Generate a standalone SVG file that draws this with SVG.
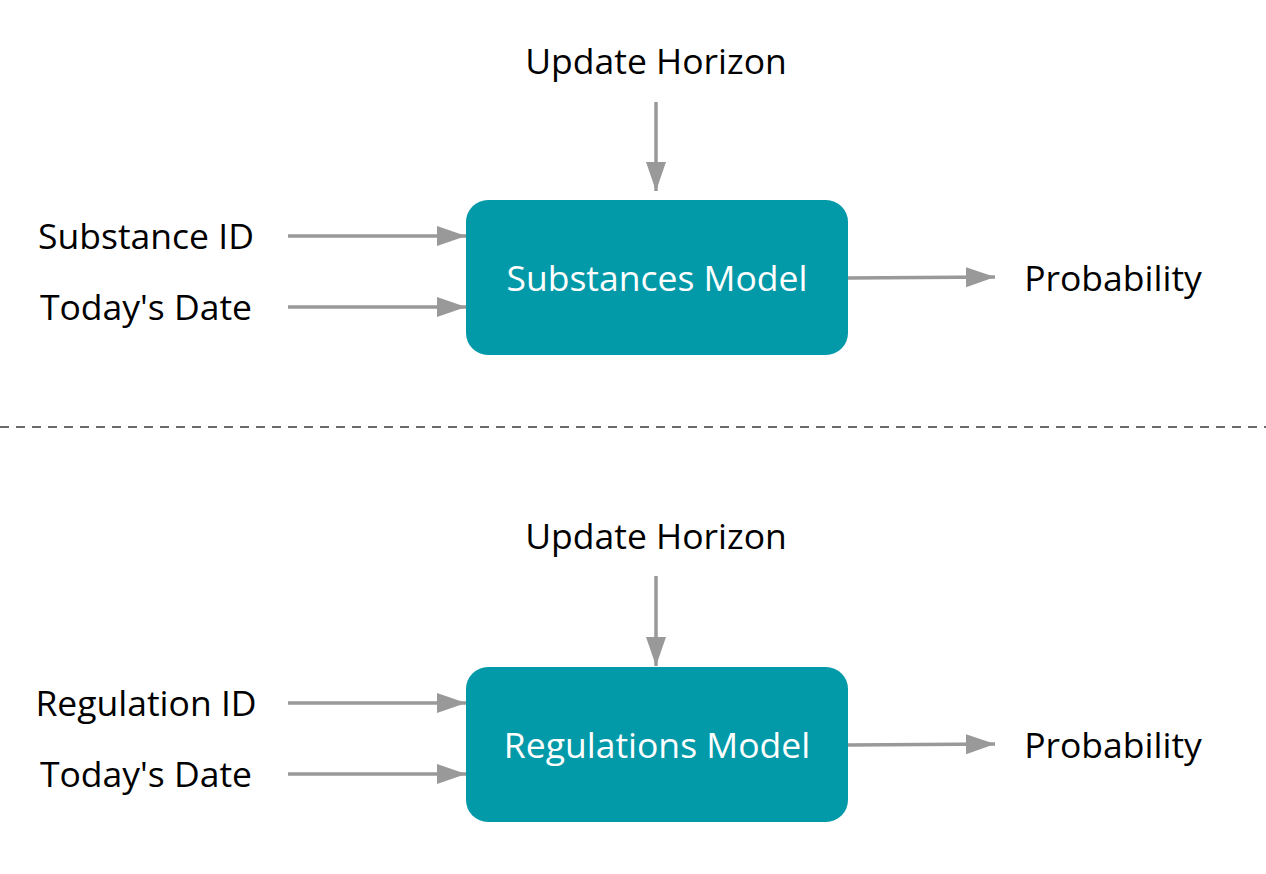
<svg xmlns="http://www.w3.org/2000/svg" width="1266" height="874" viewBox="0 0 1266 874">
<defs>
<marker id="ah" markerUnits="userSpaceOnUse" markerWidth="30" markerHeight="22" refX="29" refY="11" orient="auto">
<path d="M0,1 L29,11 L0,21 z" fill="#999"/>
</marker>
<style>
.lbl{font-family:"Open Sans","Noto Sans",sans-serif;font-size:35.5px;fill:#000;text-anchor:middle}
.box{fill:#0299A8}
.boxt{font-family:"Open Sans","Noto Sans",sans-serif;font-size:35.5px;fill:#fff;text-anchor:middle}
.c{stroke:#999;stroke-width:3.5;fill:none;marker-end:url(#ah)}
</style>
</defs>
<rect width="1266" height="874" fill="#fff"/>
<line x1="0" y1="427" x2="1266" y2="427" stroke="#6a6a6a" stroke-width="2.2" stroke-dasharray="9,7"/>
<g id="connectors">
<line class="c" x1="656" y1="102" x2="656" y2="191"/>
<line class="c" x1="288" y1="236" x2="466" y2="236"/>
<line class="c" x1="288" y1="307" x2="466" y2="307"/>
<line class="c" x1="848" y1="278" x2="995" y2="277"/>
<line class="c" x1="656" y1="576" x2="656" y2="666"/>
<line class="c" x1="288" y1="703" x2="466" y2="703"/>
<line class="c" x1="288" y1="774" x2="466" y2="774"/>
<line class="c" x1="848" y1="745" x2="995" y2="744"/>
</g>
<g id="update1"><text class="lbl" x="656" y="74">Update Horizon</text></g>
<g id="substanceid"><text class="lbl" x="146" y="249">Substance ID</text></g>
<g id="date1"><text class="lbl" x="146" y="320">Today's Date</text></g>
<g id="substancesmodel"><rect class="box" x="466" y="200" width="382" height="155" rx="22"/><text class="boxt" x="657" y="291">Substances Model</text></g>
<g id="prob1"><text class="lbl" x="1113" y="291">Probability</text></g>
<g id="update2"><text class="lbl" x="656" y="549">Update Horizon</text></g>
<g id="regulationid"><text class="lbl" x="146" y="716">Regulation ID</text></g>
<g id="date2"><text class="lbl" x="146" y="787">Today's Date</text></g>
<g id="regulationsmodel"><rect class="box" x="466" y="667" width="382" height="155" rx="22"/><text class="boxt" x="657" y="758">Regulations Model</text></g>
<g id="prob2"><text class="lbl" x="1113" y="758">Probability</text></g>
</svg>
